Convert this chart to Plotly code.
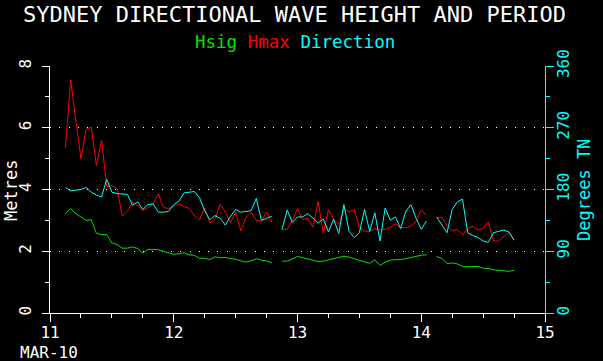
import plotly.graph_objects as go

# ---- data (hourly readings, 11-14 March 2010) ----
# first/last hour (hours after 00:00 on 11 Mar) of each unbroken run of readings
seg_hours = [(3, 43), (45, 73), (75, 90)]

hsig_1 = [3.22, 3.38, 3.22, 3.10, 3.00, 3.02, 2.58, 2.54, 2.54, 2.27, 2.22, 2.10, 2.10, 2.14,
          2.09, 1.94, 2.06, 2.06, 2.05, 2.00, 1.96, 1.90, 1.92, 1.95, 1.88, 1.87, 1.77, 1.77,
          1.73, 1.82, 1.79, 1.80, 1.76, 1.74, 1.69, 1.65, 1.69, 1.76, 1.71, 1.69, 1.63]
hsig_2 = [1.68, 1.68, 1.75, 1.83, 1.79, 1.75, 1.70, 1.67, 1.68, 1.72, 1.77, 1.81, 1.84, 1.81,
          1.77, 1.71, 1.66, 1.61, 1.72, 1.54, 1.65, 1.71, 1.73, 1.73, 1.76, 1.80, 1.83, 1.87, 1.88]
hsig_3 = [1.83, 1.77, 1.60, 1.62, 1.59, 1.51, 1.50, 1.51, 1.51, 1.45, 1.44, 1.40, 1.38, 1.36,
          1.35, 1.38]

hmax_1 = [5.35, 7.55, 6.25, 5.00, 5.95, 6.02, 4.78, 5.60, 4.10, 4.13, 4.03, 3.14, 3.30, 3.59,
          3.48, 3.32, 3.40, 3.54, 3.86, 3.42, 3.38, 3.45, 3.54, 3.45, 3.39, 3.16, 3.02, 3.40,
          2.91, 3.06, 3.52, 3.27, 2.93, 3.27, 2.66, 3.10, 3.26, 3.00, 2.97, 3.27, 2.94]
hmax_2 = [2.70, 2.71, 3.00, 3.38, 3.03, 3.07, 2.78, 3.62, 2.57, 3.35, 3.02, 2.87, 3.37, 3.27,
          3.35, 2.77, 2.66, 2.64, 2.73, 2.69, 2.70, 2.78, 2.89, 2.77, 2.76, 2.82, 2.97, 3.34, 3.16]
hmax_3 = [3.08, 3.10, 2.84, 2.66, 2.71, 2.53, 2.74, 2.81, 2.69, 2.74, 2.95, 2.34, 2.33, 2.48,
          2.63, 2.37]

dir_1 = [183, 178, 179, 180, 183, 176, 172, 169, 195, 176, 174, 174, 173, 157, 162, 151, 158,
         159, 147, 147, 148, 158, 163, 175, 176, 177, 168, 149, 136, 142, 138, 128, 141, 151,
         147, 148, 149, 167, 135, 138, 141]
dir_2 = [122, 150, 132, 140, 140, 145, 138, 131, 137, 118, 137, 116, 158, 119, 110, 117, 151,
         119, 146, 105, 153, 135, 140, 123, 148, 158, 138, 122, 134]
dir_3 = [140, 128, 117, 151, 162, 166, 117, 113, 110, 105, 103, 117, 119, 121, 118, 106]

x_tick_vals = [11, 12, 13, 14, 15]
x_tick_text = ["11", "12", "13", "14", "15"]
left_tick_vals = [0, 2, 4, 6, 8]
right_tick_vals = [0, 90, 180, 270, 360]

TITLE = "SYDNEY DIRECTIONAL WAVE HEIGHT AND PERIOD"


def join(segs):
    xs, ys = [], []
    for (h0, h1), vals in zip(seg_hours, segs):
        xs += [11 + h / 24 for h in range(h0, h1 + 1)] + [None]
        ys += list(vals) + [None]
    return xs, ys


FONT = "DejaVu Sans Mono"
W, H = 603, 361
L, R, T, B = 50, 58, 66, 48
PW, PH = W - L - R, H - T - B


def px(x):
    return (x - L) / PW


def py(y):
    return (H - B - y) / PH


GREEN, RED, CYAN = "#00e400", "#ff0000", "#00ffff"

fig = go.Figure()
xs, ys = join([hsig_1, hsig_2, hsig_3])
fig.add_trace(go.Scatter(x=xs, y=ys, mode="lines", line=dict(color=GREEN, width=1),
                         connectgaps=False, name="Hsig"))
xs, ys = join([hmax_1, hmax_2, hmax_3])
fig.add_trace(go.Scatter(x=xs, y=ys, mode="lines", line=dict(color=RED, width=1),
                         connectgaps=False, name="Hmax"))
xs, ys = join([dir_1, dir_2, dir_3])
fig.add_trace(go.Scatter(x=xs, y=ys, mode="lines", line=dict(color=CYAN, width=1),
                         connectgaps=False, name="Direction", yaxis="y2"))

fig.update_layout(
    width=W, height=H,
    margin=dict(l=L, r=R, t=T, b=B, autoexpand=False),
    paper_bgcolor="black", plot_bgcolor="black",
    showlegend=False,
    hovermode=False,
    font=dict(family=FONT, color="white"),
    xaxis=dict(range=[11, 15], tickvals=x_tick_vals, ticktext=x_tick_text, automargin=False,
               showgrid=False, zeroline=False, showline=True, linecolor="white", linewidth=1,
               ticks="outside", ticklen=8, tickcolor="white", tickwidth=1, ticklabelstandoff=-3,
               tickfont=dict(family=FONT, size=16, color="white"),
               minor=dict(dtick=0.25, ticks="outside", ticklen=4, tickcolor="white", showgrid=False)),
    yaxis=dict(range=[0, 8], tickvals=left_tick_vals, showline=True, linecolor="white",
               linewidth=1, zeroline=False, ticks="outside", ticklen=7, tickcolor="white",
               automargin=False, ticklabelstandoff=5,
               tickangle=-90, tickfont=dict(family=FONT, size=16, color="white"),
               showgrid=True, gridcolor="white", gridwidth=1, griddash="1px,8.3px",
               minor=dict(dtick=1, ticks="outside", ticklen=4, tickcolor="white", showgrid=False)),
    yaxis2=dict(range=[0, 360], tickvals=right_tick_vals, overlaying="y", side="right",
                showline=True, linecolor=CYAN, linewidth=1, zeroline=False, showgrid=False,
                automargin=False, ticklabelstandoff=-4,
                ticks="outside", ticklen=8, tickcolor=CYAN, tickangle=-90,
                tickfont=dict(family=FONT, size=16, color=CYAN),
                minor=dict(dtick=45, ticks="outside", ticklen=4, tickcolor=CYAN)),
)

ann = [
    dict(text=TITLE, x=px(294.5), y=py(15), font=dict(size=22, color="white")),
    dict(text=f"<span style='color:{GREEN}'>Hsig</span> <span style='color:{RED}'>Hmax</span> "
              f"<span style='color:{CYAN}'>Direction</span>",
         x=px(295), y=py(42), font=dict(size=17.5, color="white")),
    dict(text="Metres", x=px(11), y=py(191), textangle=-90, font=dict(size=17, color="white")),
    dict(text="Degrees TN", x=px(584), y=py(190), textangle=-90, font=dict(size=17, color=CYAN)),
    dict(text="MAR-10", x=px(48.5), y=py(352), font=dict(size=16, color="white")),
]
for a in ann:
    a.update(xref="paper", yref="paper", showarrow=False, xanchor="center", yanchor="middle")
    a["font"]["family"] = FONT
fig.update_layout(annotations=ann)

fig.write_html("out.html", config={"displayModeBar": False},
               post_script="document.body.style.margin='0';document.body.style.background='black';")
